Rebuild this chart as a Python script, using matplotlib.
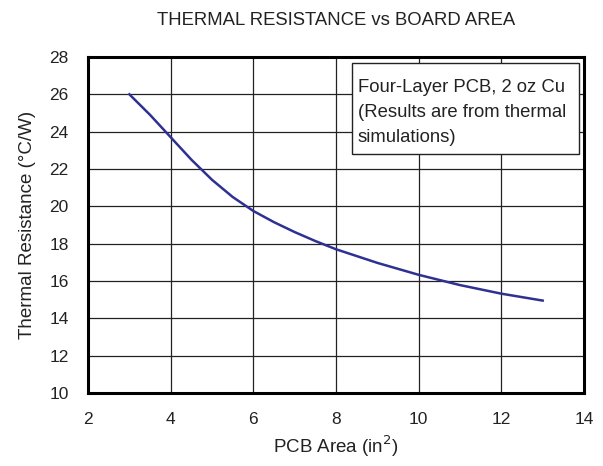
import matplotlib
matplotlib.use("Agg")
import matplotlib.pyplot as plt
from matplotlib.patches import Rectangle

# Values
pcb_area = [3.0, 3.5, 4.0, 4.5, 5.0, 5.5, 6.0, 6.5, 7.0, 7.5, 8.0, 9.0, 10.0, 11.0, 12.0, 13.0]
theta_ja = [26.0, 24.9, 23.7, 22.5, 21.42, 20.5, 19.75, 19.15, 18.62, 18.14, 17.7,
            16.97, 16.33, 15.78, 15.32, 14.95]
x_ticks = [2, 4, 6, 8, 10, 12, 14]
y_ticks = [10, 12, 14, 16, 18, 20, 22, 24, 26, 28]

plt.rcParams["font.family"] = ["Liberation Sans", "DejaVu Sans"]

fig = plt.figure(figsize=(6.03, 4.66), dpi=100)
ax = fig.add_axes([0.146, 0.1567, 0.8225, 0.721])

ax.plot(pcb_area, theta_ja, color="#2e3192", linewidth=1.8)
ax.set_xlim(2, 14)
ax.set_ylim(10, 28)
ax.set_xticks(x_ticks)
ax.set_yticks(y_ticks)
ax.tick_params(length=0, labelsize=12.5, pad=14, labelcolor="#222222")
ax.grid(True, color="#222222", linewidth=0.9)
for sp in ax.spines.values():
    sp.set_linewidth(2.2)
    sp.set_color("black")

ax.set_title("THERMAL RESISTANCE vs BOARD AREA", fontsize=13.3, pad=23, color="#222222")
ax.set_xlabel("PCB Area (in$^2$)", fontsize=13.5, color="#222222")
ax.set_ylabel("Thermal Resistance (°C/W)", fontsize=13.5, color="#222222")
ax.xaxis.set_label_coords(0.5, -0.122)
ax.yaxis.set_label_coords(-0.105, 0.5)

# note box in the upper right
ax.add_patch(Rectangle((0.532, 0.711), 0.457, 0.271, transform=ax.transAxes,
                       facecolor="white", edgecolor="#222222", linewidth=1, zorder=3))
ax.text(0.544, 0.934, "Four-Layer PCB, 2 oz Cu\n(Results are from thermal\nsimulations)",
        transform=ax.transAxes, fontsize=13.3, va="top", ha="left",
        linespacing=1.62, color="#222222", zorder=4)

fig.savefig("out.png", dpi=100)
